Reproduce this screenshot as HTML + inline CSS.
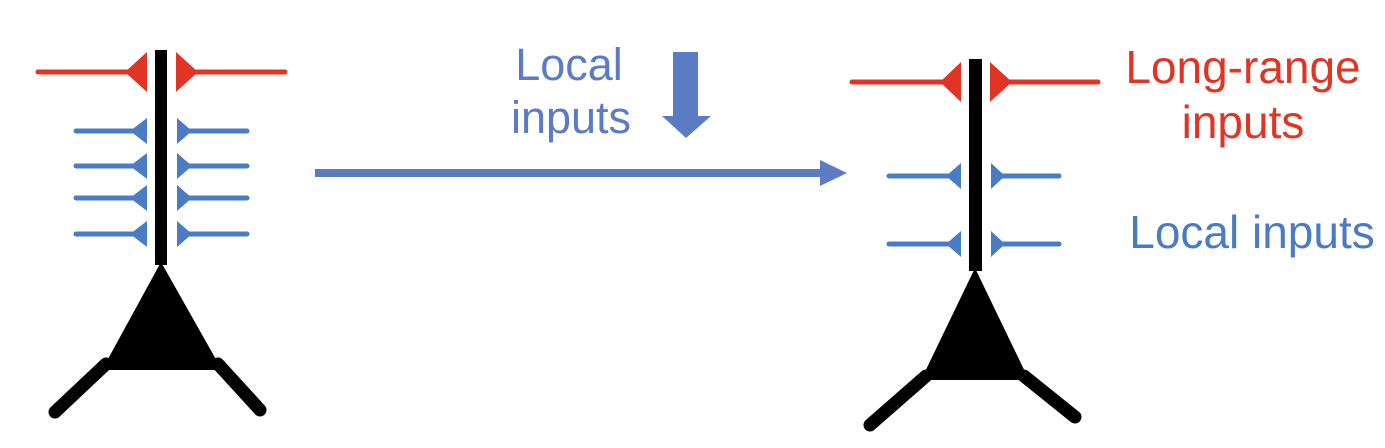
<!DOCTYPE html>
<html><head><style>
html,body{margin:0;padding:0;background:#fff;}
svg{display:block;}
text{font-family:"Liberation Sans",sans-serif;}
</style></head><body>
<svg width="1385" height="448" viewBox="0 0 1385 448" xmlns="http://www.w3.org/2000/svg">
<g fill="#000" stroke="#000">
  <rect x="155" y="50" width="12" height="215" stroke="none"/>
  <polygon points="161,262 102,370 222,370" stroke="none"/>
  <line x1="106" y1="364" x2="55" y2="412" stroke-width="13" stroke-linecap="round"/>
  <line x1="218" y1="364" x2="260" y2="410" stroke-width="13" stroke-linecap="round"/>
  <rect x="969" y="59" width="13" height="212" stroke="none"/>
  <polygon points="975,268 921,380 1029,380" stroke="none"/>
  <line x1="926" y1="376" x2="870" y2="425" stroke-width="13" stroke-linecap="round"/>
  <line x1="1024" y1="376" x2="1075" y2="417" stroke-width="13" stroke-linecap="round"/>
</g>
<g stroke="#e03524" fill="#e03524" stroke-width="5" stroke-linecap="round">
  <line x1="38" y1="72" x2="140" y2="72"/>
  <polygon points="147,52 147,92 125,72" stroke="none"/>
  <line x1="185" y1="72" x2="285" y2="72"/>
  <polygon points="176,52 176,92 198,72" stroke="none"/>
  <line x1="852" y1="82" x2="950" y2="82"/>
  <polygon points="961,62 961,102 940,82" stroke="none"/>
  <line x1="1000" y1="82" x2="1098" y2="82"/>
  <polygon points="990,62 990,102 1012,82" stroke="none"/>
</g>
<g stroke="#4a7cc4" fill="#4a7cc4" stroke-width="5" stroke-linecap="round">
  <line x1="76" y1="131" x2="140" y2="131"/><polygon points="147,118 147,144 130,131" stroke="none"/>
  <line x1="76" y1="166" x2="140" y2="166"/><polygon points="147,153 147,179 130,166" stroke="none"/>
  <line x1="76" y1="198" x2="140" y2="198"/><polygon points="147,185 147,211 130,198" stroke="none"/>
  <line x1="76" y1="234" x2="140" y2="234"/><polygon points="147,221 147,247 130,234" stroke="none"/>
  <line x1="185" y1="131" x2="247" y2="131"/><polygon points="177,118 177,144 192,131" stroke="none"/>
  <line x1="185" y1="166" x2="247" y2="166"/><polygon points="177,153 177,179 192,166" stroke="none"/>
  <line x1="185" y1="198" x2="247" y2="198"/><polygon points="177,185 177,211 192,198" stroke="none"/>
  <line x1="185" y1="234" x2="247" y2="234"/><polygon points="177,221 177,247 192,234" stroke="none"/>
  <line x1="889" y1="176" x2="953" y2="176"/><polygon points="961,163 961,189 946,176" stroke="none"/>
  <line x1="889" y1="244" x2="953" y2="244"/><polygon points="961,231 961,257 946,244" stroke="none"/>
  <line x1="998" y1="176" x2="1059" y2="176"/><polygon points="991,163 991,189 1005,176" stroke="none"/>
  <line x1="998" y1="244" x2="1059" y2="244"/><polygon points="991,231 991,257 1005,244" stroke="none"/>
</g>
<g fill="#5b7bc4">
  <rect x="315" y="169" width="508" height="8"/>
  <polygon points="820,160 820,186 847,173"/>
  <rect x="673" y="52" width="25" height="66"/>
  <polygon points="662,116 711,116 686,138"/>
</g>
<g font-size="45">
  <text x="569" y="80" text-anchor="middle" fill="#5b7bc4">Local</text>
  <text x="571" y="133" text-anchor="middle" fill="#5b7bc4">inputs</text>
  <text x="1243" y="83" text-anchor="middle" fill="#e03524" font-size="46">Long-range</text>
  <text x="1243" y="138" text-anchor="middle" fill="#e03524" font-size="46">inputs</text>
  <text x="1252" y="248" text-anchor="middle" fill="#4a7cc4" font-size="46">Local inputs</text>
</g>
</svg>
</body></html>
